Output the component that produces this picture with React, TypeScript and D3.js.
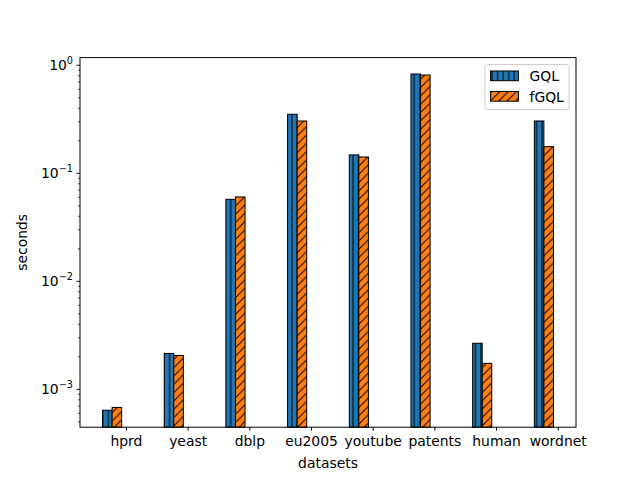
import { useEffect } from 'react';
import * as d3 from 'd3';

// datasets on the x axis
const datasets = ['hprd', 'yeast', 'dblp', 'eu2005', 'youtube', 'patents', 'human', 'wordnet'];
// run times in seconds
const gqlTimes = [0.00064, 0.00215, 0.0574, 0.352, 0.148, 0.83, 0.00267, 0.305];
const fgqlTimes = [0.00068, 0.00206, 0.0604, 0.305, 0.1416, 0.813, 0.00174, 0.1765];
const seriesNames = ['GQL', 'fGQL'];
const yTickExps = [0, -1, -2, -3];

const width = 640;
const height = 480;
const marginLeft = 80;
const marginRight = 64;
const marginTop = 57.6;
const marginBottom = 52.8;
const barW = 0.155;
const font = 'DejaVu Sans, sans-serif';
const fs = 13.9;

export default function App() {
  useEffect(() => {
    document.body.style.margin = '0';
  }, []);

  const lo = -barW / 2;
  const hi = datasets.length - 1 + barW * 1.5;
  const pad = (hi - lo) * 0.05;
  const x = d3.scaleLinear().domain([lo - pad, hi + pad]).range([marginLeft, width - marginRight]);
  const y = d3.scaleLog().domain([4.46e-4, 1.178]).range([height - marginBottom, marginTop]);
  const bw = x(barW) - x(0);
  const y0 = height - marginBottom;

  const minorTicks: number[] = [];
  for (let e = -4; e <= 0; e++) {
    for (let m = 2; m <= 9; m++) {
      const v = m * Math.pow(10, e);
      if (v >= y.domain()[0] && v <= y.domain()[1]) minorTicks.push(v);
    }
  }

  const series = [
    { name: seriesNames[0], values: gqlTimes, color: '#1f77b4', fill: 'url(#hatchV)', off: 0 },
    { name: seriesNames[1], values: fgqlTimes, color: '#ff7f0e', fill: 'url(#hatchD)', off: 1 },
  ];

  return (
    <svg width={width} height={height} style={{ display: 'block', fontFamily: font }}>
      <defs>
        <pattern id="hatchV" patternUnits="userSpaceOnUse" width={5.56} height={10}>
          <line x1={2.78} y1={0} x2={2.78} y2={10} stroke="#000" strokeWidth={1} />
        </pattern>
        <pattern id="hatchD" patternUnits="userSpaceOnUse" width={8.33} height={8.33}>
          <path d="M0,8.33 L8.33,0 M-2,2 L2,-2 M6.33,10.33 L10.33,6.33" stroke="#000" strokeWidth={1} />
        </pattern>
      </defs>
      <rect width={width} height={height} fill="#fff" />

      {series.map((s) =>
        s.values.map((v, i) => {
          const bx = x(i + s.off * barW) - bw / 2;
          const by = y(v);
          return (
            <g key={s.name + i}>
              <rect x={bx} y={by} width={bw} height={y0 - by} fill={s.color} />
              <rect x={bx} y={by} width={bw} height={y0 - by} fill={s.fill} stroke="#000" strokeWidth={1} />
            </g>
          );
        })
      )}

      {/* axes frame */}
      <rect x={marginLeft} y={marginTop} width={width - marginLeft - marginRight} height={height - marginTop - marginBottom} fill="none" stroke="#000" strokeWidth={1} />

      {/* x ticks */}
      {datasets.map((d, i) => {
        const tx = x(i + 2 * barW);
        return (
          <g key={d}>
            <line x1={tx} x2={tx} y1={y0} y2={y0 + 3.5} stroke="#000" />
            <text x={tx} y={y0 + 18.5} textAnchor="middle" fontSize={fs}>{d}</text>
          </g>
        );
      })}

      {/* y ticks */}
      {minorTicks.map((v) => (
        <line key={'m' + v} x1={marginLeft - 2} x2={marginLeft} y1={y(v)} y2={y(v)} stroke="#000" strokeWidth={0.7} />
      ))}
      {yTickExps.map((e) => {
        const ty = y(Math.pow(10, e));
        return (
          <g key={'t' + e}>
            <line x1={marginLeft - 3.5} x2={marginLeft} y1={ty} y2={ty} stroke="#000" />
            <text x={marginLeft - 7} y={ty + 5} textAnchor="end" fontSize={fs}>
              10<tspan fontSize={9.7} dy={-6}>{e < 0 ? '\u2212' + -e : String(e)}</tspan>
            </text>
          </g>
        );
      })}

      <text x={(marginLeft + width - marginRight) / 2} y={468} textAnchor="middle" fontSize={fs}>datasets</text>
      <text transform={`translate(27,${(marginTop + y0) / 2}) rotate(-90)`} textAnchor="middle" fontSize={fs}>seconds</text>

      {/* legend */}
      <g>
        <rect x={485} y={64.6} width={84} height={45} rx={2.5} fill="#fff" fillOpacity={0.8} stroke="#ccc" strokeWidth={1} />
        {series.map((s, k) => {
          const hy = 71 + k * 20.5;
          return (
            <g key={'l' + s.name}>
              <rect x={490.6} y={hy} width={27.8} height={9.7} fill={s.color} />
              <rect x={490.6} y={hy} width={27.8} height={9.7} fill={s.fill} stroke="#000" strokeWidth={1} />
              <text x={529.5} y={hy + 10} fontSize={fs}>{s.name}</text>
            </g>
          );
        })}
      </g>
    </svg>
  );
}
